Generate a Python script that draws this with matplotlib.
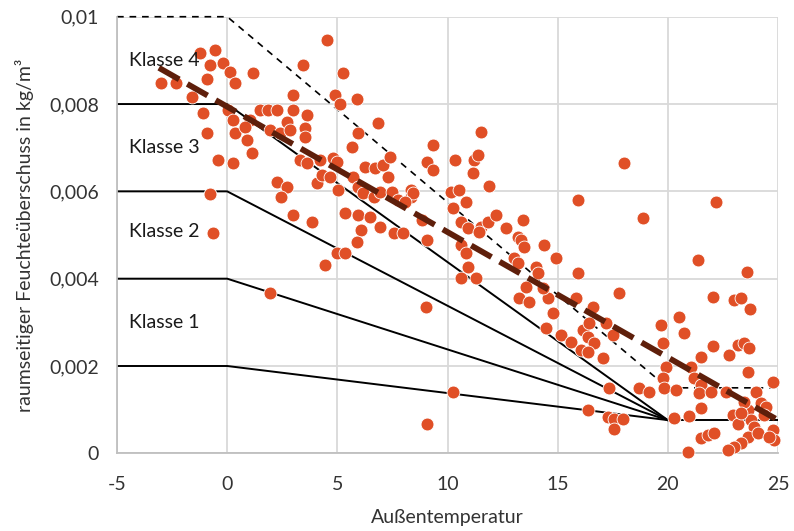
import numpy as np
import matplotlib
matplotlib.use("Agg")
import matplotlib.pyplot as plt

plt.rcParams['font.family'] = ['Lato', 'DejaVu Sans']
plt.rcParams['axes.unicode_minus'] = False

# measured points: outside temperature (°C) and moisture excess (g/m³)
temp = [
    -3.0, -2.32, -1.59, -1.23, -0.55, -0.77, -0.91, -0.18, 0.14, 0.36,
    -1.09, -0.91, -0.41, 0.27, -0.77, -0.64, 0.05, 0.27, 0.36, 1.05,
    0.82, 0.91, 1.14, 1.18, 1.5, 1.86, 2.27, 1.95, 2.41, 2.73,
    3.0, 3.0, 2.86, 3.45, 3.64, 3.55, 3.55, 3.32, 3.64, 4.55,
    4.82, 2.27, 2.73, 2.45, 3.0, 3.86, 4.09, 4.23, 4.45, 1.95,
    5.0, 4.32, 4.68, 5.73, 5.05, 5.95, 6.18, 6.64, 6.95, 7.5,
    8.32, 8.32, 8.45, 7.73, 5.36, 5.95, 6.5, 6.95, 6.05, 5.91,
    5.0, 5.36, 7.55, 8.0, 8.86, 5.27, 4.91, 5.14, 5.91, 5.68,
    5.95, 6.86, 6.27, 6.73, 7.05, 7.41, 7.32, 9.32, 9.09, 9.36,
    9.0, 9.05, 8.09, 9.05,
    10.36, 11.18, 11.14, 11.5, 11.36, 11.86, 10.14, 10.5, 10.82, 10.27,
    10.59, 10.91, 11.5, 11.82, 12.18, 11.41, 10.59, 10.82, 10.91, 10.59,
    11.27, 12.64, 13.18, 13.41, 13.32, 13.45, 14.36, 13.0, 13.18, 14.0,
    14.09, 14.91, 13.55, 13.23, 14.55, 15.91, 15.91, 15.82, 18.86, 13.68,
    14.32, 18.0, 14.77, 14.45, 15.14, 15.59, 16.14, 16.41, 16.36, 16.64,
    16.05, 16.36, 17.05, 17.18, 17.5, 16.59, 17.77, 10.23, 17.32, 16.36,
    17.27, 17.55, 17.95, 17.55, 18.7, 19.14,
    22.18, 21.36, 23.59, 22.05, 23.0, 23.32, 23.73, 20.5, 19.7, 20.73,
    19.8, 22.05, 21.5, 22.77, 23.18, 23.45, 23.68, 19.9, 23.64, 24.77,
    19.77, 19.82, 20.36, 21.05, 21.18, 21.5, 21.41, 21.95, 22.64, 24.0,
    24.23, 24.45, 21.5, 20.27, 20.95, 22.95, 23.18, 23.64, 23.77, 23.91,
    21.5, 21.82, 22.09, 23.64, 24.09, 24.77, 24.82, 24.59, 23.32, 23.0,
    22.73, 20.91, 24.36, 23.45, 23.32,
]
dv_g = [
    8.48, 8.48, 8.17, 9.17, 9.24, 8.89, 8.57, 8.94, 8.73, 8.48,
    7.80, 7.34, 6.72, 6.65, 5.94, 5.05, 7.86, 7.64, 7.34, 7.64,
    7.48, 7.18, 6.88, 8.71, 7.86, 7.86, 7.86, 7.41, 7.34, 7.59,
    8.21, 7.86, 7.41, 8.89, 7.76, 7.45, 7.25, 6.72, 6.65, 9.47,
    6.77, 6.22, 6.10, 5.87, 5.46, 5.30, 6.19, 6.72, 4.31, 3.67,
    6.67, 6.38, 6.33, 6.33, 6.03, 6.10, 5.96, 5.87, 5.99, 5.99,
    6.03, 5.87, 5.96, 5.80, 5.50, 5.46, 5.41, 5.18, 5.12, 4.84,
    4.59, 4.59, 5.05, 5.05, 5.34, 8.71, 8.21, 8.00, 8.11, 7.02,
    7.34, 7.57, 6.56, 6.54, 6.60, 6.79, 6.33, 7.06, 6.67, 6.49,
    3.35, 0.67, 5.76, 4.89,
    6.72, 6.72, 6.42, 7.36, 6.84, 6.12, 5.99, 6.03, 5.76, 5.62,
    5.30, 5.16, 5.18, 5.30, 5.46, 5.07, 4.77, 4.59, 4.27, 4.02,
    4.02, 5.16, 4.96, 5.34, 4.89, 4.73, 4.77, 4.47, 4.36, 4.27,
    4.13, 4.47, 3.81, 3.56, 3.56, 5.80, 4.13, 3.56, 5.39, 3.47,
    3.79, 6.65, 3.22, 2.87, 2.71, 2.55, 2.82, 2.99, 2.66, 2.53,
    2.37, 2.32, 2.18, 2.99, 2.71, 3.35, 3.67, 1.40, 1.50, 0.99,
    0.83, 0.79, 0.79, 0.56, 1.50, 1.40,
    5.76, 4.43, 4.15, 3.58, 3.51, 3.56, 3.31, 3.12, 2.94, 2.76,
    2.53, 2.46, 2.21, 2.25, 2.48, 2.53, 2.41, 1.98, 1.86, 1.63,
    1.73, 1.50, 1.45, 1.98, 1.73, 1.56, 1.38, 1.40, 1.40, 1.40,
    1.15, 1.06, 1.04, 0.81, 0.85, 0.88, 0.66, 0.99, 0.76, 0.61,
    0.35, 0.42, 0.46, 0.37, 0.46, 0.53, 0.30, 0.37, 0.24, 0.14,
    0.08, 0.03, 0.88, 1.18, 0.92,
]

# class boundaries (g/m³): flat up to 0 °C, meeting at 20 °C
bound_temp = [-5, 0, 20]
bound_levels = [2, 4, 6, 8]
bound_end = 0.76
flat_temp = [20, 25]
upper_temp = [-5, 0, 20, 25]
upper_dv = [10, 10, 1.5, 1.5]

# trend line
trend_temp = [-3.1, 25]
trend_dv = [8.83, 0.76]

class_labels = ['Klasse 1', 'Klasse 2', 'Klasse 3', 'Klasse 4']
class_label_dv = [2.99, 5.07, 7.0, 8.99]

xticks = [-5, 0, 5, 10, 15, 20, 25]
yticks = [0, 0.002, 0.004, 0.006, 0.008, 0.01]
ytick_labels = ['0', '0,002', '0,004', '0,006', '0,008', '0,01']

dot_color = '#e04f26'
trend_color = '#5e1f0b'
text_color = '#333333'

fig = plt.figure(figsize=(7.94, 5.31), dpi=100)
ax = fig.add_axes([0.1474, 0.1463, 0.8325, 0.8222])

to_kg = lambda v: np.asarray(v, dtype=float) / 1000.0

for lev in bound_levels:
    ax.plot(bound_temp, to_kg([lev, lev, bound_end]), color='black', lw=1.4, zorder=2)
ax.plot(flat_temp, to_kg([bound_end, bound_end]), color='black', lw=1.4, zorder=2)
ax.plot(upper_temp, to_kg(upper_dv), color='black', lw=1.2,
        linestyle=(0, (4, 3.5)), zorder=2, clip_on=False)

ax.scatter(temp, to_kg(dv_g), s=86, color=dot_color, edgecolors='white',
           linewidths=0.6, zorder=3, clip_on=False)

ax.plot(trend_temp, to_kg(trend_dv), color=trend_color, lw=4.2,
        linestyle=(0, (4, 1.6)), zorder=4)

for lab, v in zip(class_labels, class_label_dv):
    ax.text(-4.45, v / 1000.0, lab, fontsize=14, color='#1a1a1a',
            va='center', ha='left', zorder=5)

ax.set_xlim(-5, 25)
ax.set_ylim(0, 0.01)
ax.set_xticks(xticks)
ax.set_yticks(yticks)
ax.set_yticklabels(ytick_labels)
ax.grid(True, color='#d9d9d9', lw=1.3, zorder=0)
ax.set_axisbelow(True)
for side in ['top', 'right']:
    ax.spines[side].set_visible(False)
for side in ['left', 'bottom']:
    ax.spines[side].set_color('#bfbfbf')
    ax.spines[side].set_linewidth(1.3)
ax.tick_params(length=0, labelsize=14, colors=text_color)
ax.tick_params(axis='y', pad=13)
ax.tick_params(axis='x', pad=16)

ax.set_xlabel('Außentemperatur', fontsize=14, color=text_color, labelpad=12)
ax.set_ylabel('raumseitiger Feuchteüberschuss in kg/m³', fontsize=14,
              color=text_color, labelpad=11)

fig.savefig('out.png', dpi=100)
